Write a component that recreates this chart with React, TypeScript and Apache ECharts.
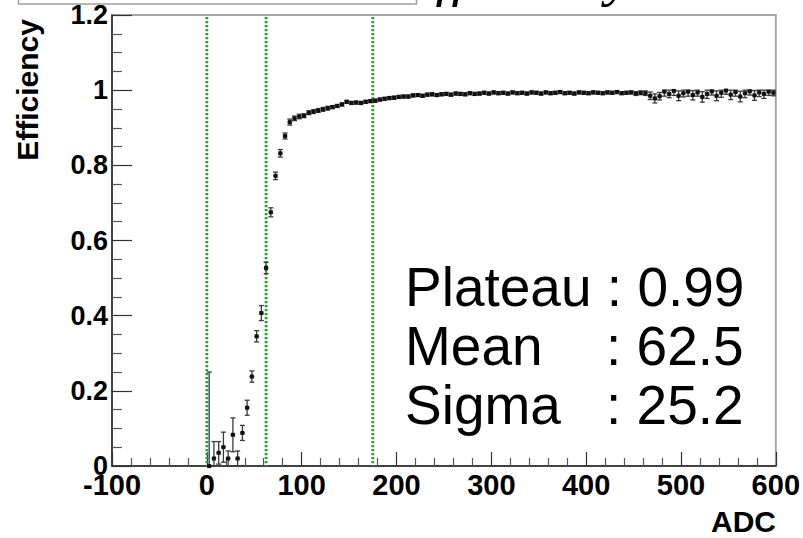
import React, { useEffect, useRef } from "react";
import * as echarts from "echarts";

const adcBins = [
  2.5, 7.5, 12.5, 17.5, 22.5, 27.5, 32.5, 37.5, 42.5, 47.5,
  52.5, 57.5, 62.5, 67.5, 72.5, 77.5, 82.5, 87.5, 92.5, 97.5,
  102.5, 107.5, 112.5, 117.5, 122.5, 127.5, 132.5, 137.5, 142.5, 147.5,
  152.5, 157.5, 162.5, 167.5, 172.5, 177.5, 182.5, 187.5, 192.5, 197.5,
  202.5, 207.5, 212.5, 217.5, 222.5, 227.5, 232.5, 237.5, 242.5, 247.5,
  252.5, 257.5, 262.5, 267.5, 272.5, 277.5, 282.5, 287.5, 292.5, 297.5,
  302.5, 307.5, 312.5, 317.5, 322.5, 327.5, 332.5, 337.5, 342.5, 347.5,
  352.5, 357.5, 362.5, 367.5, 372.5, 377.5, 382.5, 387.5, 392.5, 397.5,
  402.5, 407.5, 412.5, 417.5, 422.5, 427.5, 432.5, 437.5, 442.5, 447.5,
  452.5, 457.5, 462.5, 467.5, 472.5, 477.5, 482.5, 487.5, 492.5, 497.5,
  502.5, 507.5, 512.5, 517.5, 522.5, 527.5, 532.5, 537.5, 542.5, 547.5,
  552.5, 557.5, 562.5, 567.5, 572.5, 577.5, 582.5, 587.5, 592.5, 597.5,
];

const efficiency = [
  0, 0.02, 0.035, 0.05, 0.02, 0.083, 0.02, 0.088, 0.155, 0.238,
  0.345, 0.407, 0.527, 0.675, 0.772, 0.832, 0.878, 0.915, 0.925, 0.93,
  0.932, 0.94, 0.943, 0.946, 0.949, 0.952, 0.955, 0.958, 0.962, 0.969,
  0.966, 0.967, 0.966, 0.969, 0.971, 0.972, 0.975, 0.977, 0.979, 0.98,
  0.982, 0.983, 0.983, 0.986, 0.987, 0.985, 0.988, 0.989, 0.987, 0.989,
  0.99, 0.988, 0.991, 0.99, 0.989, 0.992, 0.99, 0.991, 0.993, 0.991,
  0.994, 0.992, 0.993, 0.991, 0.994, 0.992, 0.993, 0.991, 0.994, 0.993,
  0.991, 0.994, 0.992, 0.993, 0.995, 0.992, 0.993, 0.991, 0.994, 0.993,
  0.992, 0.994, 0.993, 0.992, 0.994, 0.993, 0.995, 0.992, 0.993, 0.994,
  0.991, 0.993, 0.992, 0.985, 0.978, 0.984, 0.996, 0.99, 0.998, 0.985,
  0.992, 0.996, 0.987, 0.994, 0.982, 0.99, 0.997, 0.985, 0.993, 0.999,
  0.988, 0.995, 0.983, 0.992, 0.997, 0.986, 0.994, 0.99, 0.996, 0.993,
];

const errLow = [
  0, 0.02, 0.03, 0.04, 0.02, 0.045, 0.02, 0.02, 0.02, 0.015,
  0.015, 0.02, 0.015, 0.012, 0.01, 0.01, 0.008, 0.008, 0.006, 0.006,
  0.005, 0.005, 0.005, 0.005, 0.005, 0.005, 0.004, 0.004, 0.004, 0.004,
  0.004, 0.004, 0.004, 0.004, 0.004, 0.004, 0.004, 0.004, 0.004, 0.004,
  0.004, 0.004, 0.004, 0.004, 0.004, 0.004, 0.004, 0.004, 0.004, 0.004,
  0.004, 0.004, 0.004, 0.004, 0.004, 0.004, 0.004, 0.004, 0.004, 0.004,
  0.004, 0.004, 0.004, 0.004, 0.004, 0.004, 0.004, 0.004, 0.004, 0.004,
  0.004, 0.004, 0.004, 0.004, 0.004, 0.004, 0.004, 0.004, 0.004, 0.004,
  0.004, 0.004, 0.004, 0.004, 0.004, 0.004, 0.004, 0.004, 0.004, 0.004,
  0.005, 0.005, 0.006, 0.01, 0.012, 0.01, 0.012, 0.01, 0.012, 0.013,
  0.01, 0.012, 0.013, 0.01, 0.014, 0.012, 0.01, 0.013, 0.012, 0.01,
  0.013, 0.011, 0.014, 0.012, 0.01, 0.013, 0.011, 0.012, 0.01, 0.008,
];

const errHigh = [
  0.25, 0.045, 0.03, 0.04, 0.02, 0.045, 0.02, 0.02, 0.02, 0.015,
  0.015, 0.02, 0.015, 0.012, 0.01, 0.01, 0.008, 0.008, 0.006, 0.006,
  0.005, 0.005, 0.005, 0.005, 0.005, 0.005, 0.004, 0.004, 0.004, 0.004,
  0.004, 0.004, 0.004, 0.004, 0.004, 0.004, 0.004, 0.004, 0.004, 0.004,
  0.004, 0.004, 0.004, 0.004, 0.004, 0.004, 0.004, 0.004, 0.004, 0.004,
  0.004, 0.004, 0.004, 0.004, 0.004, 0.004, 0.004, 0.004, 0.004, 0.004,
  0.004, 0.004, 0.004, 0.004, 0.004, 0.004, 0.004, 0.004, 0.004, 0.004,
  0.004, 0.004, 0.004, 0.004, 0.004, 0.004, 0.004, 0.004, 0.004, 0.004,
  0.004, 0.004, 0.004, 0.004, 0.004, 0.004, 0.004, 0.004, 0.004, 0.004,
  0.005, 0.005, 0.006, 0.01, 0.012, 0.01, 0.004, 0.01, 0.002, 0.013,
  0.008, 0.004, 0.012, 0.006, 0.014, 0.01, 0.003, 0.013, 0.007, 0.001,
  0.012, 0.005, 0.014, 0.008, 0.003, 0.013, 0.006, 0.01, 0.004, 0.007,
];

const cutLines = [0, 62.5, 175];
const statLabels = ["Plateau", "Mean", "Sigma"];
const statValues = ["0.99", "62.5", "25.2"];

const xMin = -100;
const xMax = 600;
const xStep = 100;
const yMin = 0;
const yMax = 1.2;
const yStep = 0.2;
const binHalf = 2.5;

export default function App() {
  const ref = useRef<HTMLDivElement>(null);

  useEffect(() => {
    document.body.style.margin = "0";
    if (!ref.current) return;
    const chart = echarts.init(ref.current, null, { renderer: "svg" });

    const points = adcBins.map((x, i) => [x, efficiency[i], errLow[i], errHigh[i]]);

    const statFont = "Liberation Sans, Arial, sans-serif";
    const statY = [287, 346, 405];
    const statGraphics: any[] = [];
    statY.forEach((y, i) => {
      if (i === 0) {
        statGraphics.push({
          type: "text",
          x: 405,
          y,
          style: {
            text: statLabels[i] + " : " + statValues[i],
            font: `55px ${statFont}`,
            fill: "#000",
            textAlign: "left",
            textVerticalAlign: "middle",
          },
        });
      } else {
        statGraphics.push({
          type: "text",
          x: 405,
          y,
          style: {
            text: statLabels[i],
            font: `55px ${statFont}`,
            fill: "#000",
            textAlign: "left",
            textVerticalAlign: "middle",
          },
        });
        statGraphics.push({
          type: "text",
          x: 606,
          y,
          style: {
            text: ": " + statValues[i],
            font: `55px ${statFont}`,
            fill: "#000",
            textAlign: "left",
            textVerticalAlign: "middle",
          },
        });
      }
    });

    chart.setOption({
      animation: false,
      backgroundColor: "#fff",
      grid: {
        left: 112,
        right: 27,
        top: 15,
        bottom: 72,
        show: true,
        borderColor: "#a8a8a8",
        borderWidth: 2,
        backgroundColor: "transparent",
      },
      xAxis: {
        type: "value",
        min: xMin,
        max: xMax,
        interval: xStep,
        axisLine: { show: true, onZero: false, lineStyle: { color: "#222", width: 1.5 } },
        axisTick: { show: true, inside: true, length: 14, lineStyle: { color: "#333", width: 1.2 } },
        minorTick: { show: true, splitNumber: 5, length: 8, lineStyle: { color: "#555", width: 1.2 } },
        splitLine: { show: false },
        axisLabel: {
          fontFamily: "Liberation Sans, Arial, sans-serif",
          fontWeight: "bold",
          fontSize: 29,
          color: "#000",
          margin: 4,
        },
      },
      yAxis: {
        type: "value",
        min: yMin,
        max: yMax,
        interval: yStep,
        axisLine: { show: true, onZero: false, lineStyle: { color: "#222", width: 1.5 } },
        axisTick: { show: true, inside: true, length: 20, lineStyle: { color: "#333", width: 1.2 } },
        minorTick: { show: true, splitNumber: 4, length: 10, lineStyle: { color: "#555", width: 1.2 } },
        splitLine: { show: false },
        axisLabel: {
          fontFamily: "Liberation Sans, Arial, sans-serif",
          fontWeight: "bold",
          fontSize: 27,
          color: "#000",
          margin: 4,
          formatter: (v: number) => String(Math.round(v * 10) / 10),
        },
      },
      series: [
        {
          type: "custom",
          name: "cuts",
          data: cutLines.map((x) => [x]),
          renderItem: (params: any, api: any) => {
            const x = api.value(0);
            const top = api.coord([x, yMax]);
            const bot = api.coord([x, yMin]);
            return {
              type: "line",
              shape: { x1: top[0], y1: top[1] + 2, x2: bot[0], y2: bot[1] },
              style: { stroke: "#27a033", lineWidth: 2.8, lineDash: [2.2, 1.8] },
            };
          },
          z: 2,
        },
        {
          type: "custom",
          name: "efficiency",
          data: points,
          renderItem: (params: any, api: any) => {
            const x = api.value(0);
            const y = api.value(1);
            const lo = api.value(2);
            const hi = api.value(3);
            const c = api.coord([x, y]);
            const t = api.coord([x, y + hi]);
            const b = api.coord([x, y - lo]);
            const l = api.coord([x - binHalf, y]);
            const r = api.coord([x + binHalf, y]);
            const stroke = { stroke: "#3a3a3a", lineWidth: 1.3 };
            const children: any[] = [
              { type: "line", shape: { x1: c[0], y1: t[1], x2: c[0], y2: b[1] }, style: stroke },
              { type: "line", shape: { x1: c[0] - 2.5, y1: t[1], x2: c[0] + 2.5, y2: t[1] }, style: stroke },
              { type: "line", shape: { x1: c[0] - 2.5, y1: b[1], x2: c[0] + 2.5, y2: b[1] }, style: stroke },
              { type: "line", shape: { x1: l[0], y1: c[1], x2: r[0], y2: c[1] }, style: stroke },
              { type: "rect", shape: { x: c[0] - 2, y: c[1] - 2, width: 4, height: 4 }, style: { fill: "#111" } },
            ];
            return { type: "group", children };
          },
          z: 3,
        },
      ],
      graphic: [
        {
          type: "rect",
          shape: { x: 18.5, y: -10, width: 398, height: 14 },
          style: { fill: "none", stroke: "#a0a0a0", lineWidth: 1.5 },
        },
        {
          type: "text",
          x: 400,
          y: -25,
          style: {
            text: "Efficiency",
            font: "italic 58px Liberation Serif, Times New Roman, serif",
            fill: "#000",
            textAlign: "left",
            textVerticalAlign: "middle",
          },
        },
        {
          type: "text",
          x: 27.5,
          y: 90,
          rotation: Math.PI / 2,
          style: {
            text: "Efficiency",
            font: "bold 30px Liberation Sans, Arial, sans-serif",
            fill: "#000",
            textAlign: "center",
            textVerticalAlign: "middle",
          },
        },
        {
          type: "text",
          x: 776,
          y: 521,
          style: {
            text: "ADC",
            font: "bold 30px Liberation Sans, Arial, sans-serif",
            fill: "#000",
            textAlign: "right",
            textVerticalAlign: "middle",
          },
        },
        ...statGraphics,
      ],
    });

    return () => {
      chart.dispose();
    };
  }, []);

  return <div ref={ref} style={{ width: 803, height: 538 }} />;
}
